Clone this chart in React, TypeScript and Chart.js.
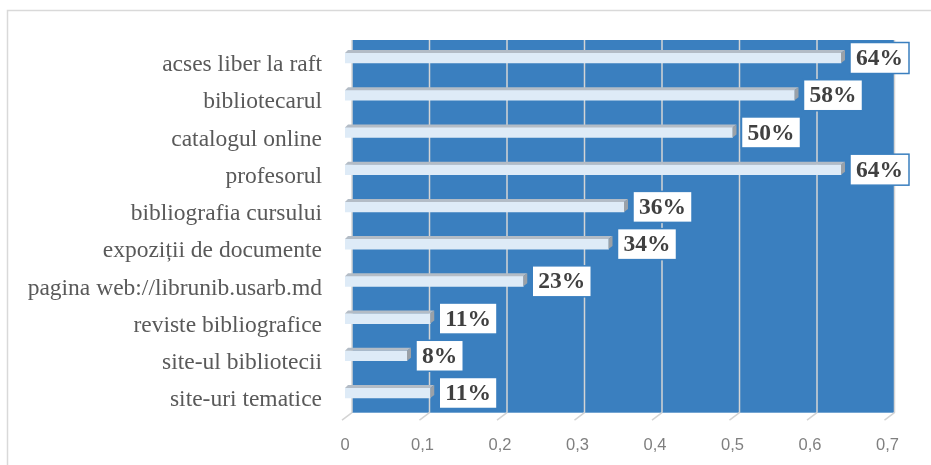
import React, { useEffect, useRef } from "react";
import { Chart, registerables } from "chart.js";

Chart.register(...registerables);

const categories = [
  "acses liber la raft",
  "bibliotecarul",
  "catalogul online",
  "profesorul",
  "bibliografia cursului",
  "expoziții de documente",
  "pagina web://librunib.usarb.md",
  "reviste bibliografice",
  "site-ul bibliotecii",
  "site-uri tematice",
];
const values = [0.64, 0.58, 0.5, 0.64, 0.36, 0.34, 0.23, 0.11, 0.08, 0.11];
const valueLabels = ["64%", "58%", "50%", "64%", "36%", "34%", "23%", "11%", "8%", "11%"];
const xTickLabels = ["0", "0,1", "0,2", "0,3", "0,4", "0,5", "0,6", "0,7"];

const W = 931;
const H = 465;
const WALL = "#3a7fbf";
const DX = 7; // depth offset of the back wall

const decorPlugin = {
  id: "decor",
  beforeDraw(chart: any) {
    const ctx = chart.ctx;
    ctx.save();
    ctx.fillStyle = "#ffffff";
    ctx.fillRect(0, 0, chart.width, chart.height);
    ctx.strokeStyle = "#d9d9d9";
    ctx.lineWidth = 1.5;
    ctx.strokeRect(7.5, 10.5, chart.width + 20, chart.height + 20);
    ctx.restore();
  },
  beforeDatasetsDraw(chart: any) {
    const ctx = chart.ctx;
    const xs = chart.scales.x;
    const { top, bottom } = chart.chartArea;
    const x0 = xs.getPixelForValue(0) + DX;
    const x1 = xs.getPixelForValue(0.7) + DX;
    const wTop = top + 0.6;
    const wBot = bottom + 1.1;
    ctx.save();
    ctx.fillStyle = WALL;
    ctx.fillRect(x0, wTop, x1 - x0, wBot - wTop);
    ctx.strokeStyle = "#d4d4d4";
    ctx.lineWidth = 1.5;
    for (let i = 0; i < xTickLabels.length; i++) {
      const gx = xs.getPixelForValue(i / 10) + DX;
      ctx.beginPath();
      ctx.moveTo(gx, wTop);
      ctx.lineTo(gx, wBot);
      ctx.stroke();
      ctx.beginPath();
      ctx.moveTo(gx - 10, wBot + 7.5);
      ctx.lineTo(gx, wBot);
      ctx.stroke();
    }
    ctx.restore();
  },
  afterDatasetsDraw(chart: any) {
    const ctx = chart.ctx;
    const meta = chart.getDatasetMeta(0);
    ctx.save();
    const boxes: any[] = [];
    meta.data.forEach((el: any, i: number) => {
      const p = el.getProps(["x", "y", "base", "height"], true);
      const xa = p.base;
      const xb = p.x;
      const yTop = p.y - p.height / 2;
      const yBot = p.y + p.height / 2;
      // top face
      ctx.fillStyle = "#b3bcc6";
      ctx.beginPath();
      ctx.moveTo(xa, yTop);
      ctx.lineTo(xb, yTop);
      ctx.lineTo(xb + 4, yTop - 3);
      ctx.lineTo(xa + 3, yTop - 3);
      ctx.closePath();
      ctx.fill();
      // side face
      ctx.fillStyle = "#9aa1a8";
      ctx.beginPath();
      ctx.moveTo(xb, yTop);
      ctx.lineTo(xb + 4, yTop - 3);
      ctx.lineTo(xb + 4, yBot - 3);
      ctx.lineTo(xb, yBot);
      ctx.closePath();
      ctx.fill();
      boxes.push({ x: xb, y: p.y, text: valueLabels[i] });
    });
    ctx.font = 'bold 23.5px "Liberation Serif"';
    ctx.textAlign = "center";
    ctx.textBaseline = "middle";
    boxes.forEach((b) => {
      const tw = ctx.measureText(b.text).width;
      const bw = tw + 12;
      const bh = 31;
      const bx = b.x + 9;
      const by = b.y - bh / 2;
      ctx.fillStyle = "#ffffff";
      ctx.fillRect(bx, by, bw, bh);
      ctx.strokeStyle = WALL;
      ctx.lineWidth = 1.5;
      ctx.strokeRect(bx, by, bw, bh);
      ctx.fillStyle = "#404040";
      ctx.fillText(b.text, bx + bw / 2, b.y + 1);
    });
    ctx.restore();
  },
};

export default function App() {
  const ref = useRef<HTMLCanvasElement | null>(null);
  useEffect(() => {
    if (!ref.current) return;
    const chart = new Chart(ref.current, {
      type: "bar",
      data: {
        labels: categories,
        datasets: [
          {
            data: values,
            backgroundColor: "#deebf7",
            borderWidth: 0,
            barThickness: 10,
          },
        ],
      },
      options: {
        indexAxis: "y",
        animation: false,
        responsive: false,
        events: [],
        layout: { padding: { left: 0, right: 43.5, top: 39.4, bottom: 0 } },
        plugins: {
          legend: { display: false },
          tooltip: { enabled: false },
          title: { display: false },
        },
        scales: {
          y: {
            type: "category",
            grid: { display: false, drawTicks: false },
            border: { display: false },
            ticks: {
              padding: 23,
              labelOffset: 7,
              color: "#595959",
              font: { family: '"Liberation Serif"', size: 23.5 },
            },
            afterFit: (s: any) => {
              s.width = 345;
            },
          },
          x: {
            type: "linear",
            min: 0,
            max: 0.7,
            grid: { display: false, drawTicks: false },
            border: { display: false },
            ticks: {
              stepSize: 0.1,
              padding: 24,
              color: "#7f7f7f",
              font: { family: '"Liberation Sans"', size: 16.5 },
              callback: (v: any) => xTickLabels[Math.round(Number(v) * 10)],
            },
            afterFit: (s: any) => {
              s.height = 53.4;
            },
          },
        },
      },
      plugins: [decorPlugin],
    });
    return () => chart.destroy();
  }, []);
  return (
    <div style={{ position: "fixed", left: 0, top: 0, width: W, height: H }}>
      <canvas ref={ref} width={W} height={H} style={{ display: "block" }} />
    </div>
  );
}
